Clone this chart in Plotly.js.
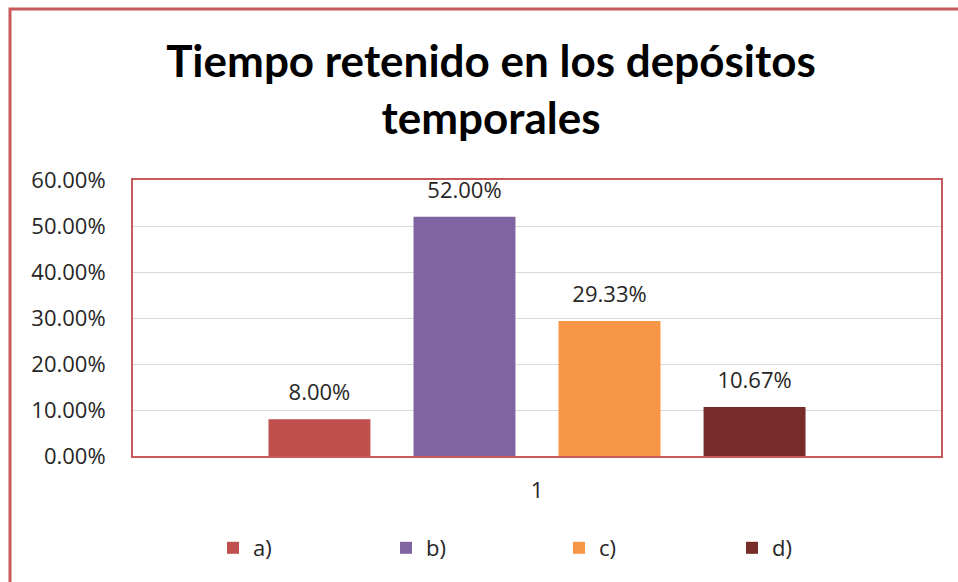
<!DOCTYPE html>
<html><head><meta charset="utf-8">
<script src="https://cdn.plot.ly/plotly-3.0.1.min.js"></script>
<style>body{margin:0;background:#fff}#chart{width:958px;height:582px}</style>
</head><body><div id="chart"></div>
<script>
const categories = ['1'];
const seriesNames = ['a)', 'b)', 'c)', 'd)'];
const seriesValues = [[0.08], [0.52], [0.2933], [0.1067]];
const seriesColors = ['#c0504d', '#8064a2', '#f79646', '#772c2a'];
const yTickVals = [0, 0.1, 0.2, 0.3, 0.4, 0.5, 0.6];
const titleText = 'Tiempo retenido en los depósitos<br>temporales';

const TFONT = 'Lato, "Open Sans", sans-serif';
const FONT = '"Open Sans", Lato, sans-serif';
const FS = 22;
const barTraces = seriesNames.map((n, i) => ({
  type: 'bar', name: n, x: categories, y: seriesValues[i],
  marker: {color: seriesColors[i]}, offsetgroup: n, alignmentgroup: 'g',
  hoverinfo: 'skip'
}));
const labelTraces = seriesNames.map((n, i) => ({
  type: 'scatter', mode: 'markers+text', x: categories, y: seriesValues[i],
  offsetgroup: n, alignmentgroup: 'g', showlegend: false,
  marker: {size: 20, opacity: 0},
  text: seriesValues[i].map(v => (v * 100).toFixed(2) + '%'),
  textposition: 'top center', cliponaxis: false,
  textfont: {family: FONT, size: FS, color: '#262626'},
  hoverinfo: 'skip'
}));

const W = 958, H = 582, L = 133, R = 17, T = 180, B = 126;
const pw = W - L - R, ph = H - T - B;
const px = x => (x - L) / pw, py = y => (H - B - y) / ph;

const layout = {
  width: W, height: H,
  margin: {l: L, r: R, t: T, b: B, pad: 0, autoexpand: false},
  paper_bgcolor: '#fff', plot_bgcolor: '#fff',
  font: {family: FONT, color: '#262626'},
  title: {text: titleText, font: {family: TFONT, size: 44, color: '#000', weight: 'bold'},
    x: 491 / W, xanchor: 'center', y: 1 - 77 / H, yanchor: 'middle'},
  barmode: 'group', bargap: 0.282, bargroupgap: 0.297,
  scattermode: 'group', scattergap: 0.282,
  xaxis: {type: 'category', range: [-0.5, 0.5], showgrid: false, zeroline: false,
    showline: true, mirror: true, linecolor: '#c9585a', linewidth: 2,
    ticks: 'outside', ticklen: 14, tickcolor: 'rgba(0,0,0,0)',
    tickfont: {family: FONT, size: FS, color: '#262626'}},
  yaxis: {range: [0, 0.6], tickvals: yTickVals, tickformat: '.2%',
    showgrid: true, gridcolor: '#d9d9d9', gridwidth: 1, zeroline: false,
    showline: true, mirror: true, linecolor: '#c9585a', linewidth: 2,
    ticks: 'outside', ticklen: 21, tickcolor: 'rgba(0,0,0,0)',
    tickfont: {family: FONT, size: FS, color: '#262626'}},
  showlegend: true,
  legend: {orientation: 'h', xref: 'container', yref: 'container',
    x: 213 / W, xanchor: 'left', y: (H - 548) / H, yanchor: 'middle',
    entrywidth: 128, entrywidthmode: 'pixels', traceorder: 'normal',
    font: {family: FONT, size: FS, color: '#262626'}, itemwidth: 30},
  shapes: [{type: 'path', xref: 'paper', yref: 'paper',
    path: `M ${px(10)} ${py(582)} L ${px(10)} ${py(9)} L ${px(960)} ${py(9)}`,
    line: {color: '#c9585a', width: 3}}]
};
Plotly.newPlot('chart', barTraces.concat(labelTraces), layout, {staticPlot: true});
</script></body></html>
